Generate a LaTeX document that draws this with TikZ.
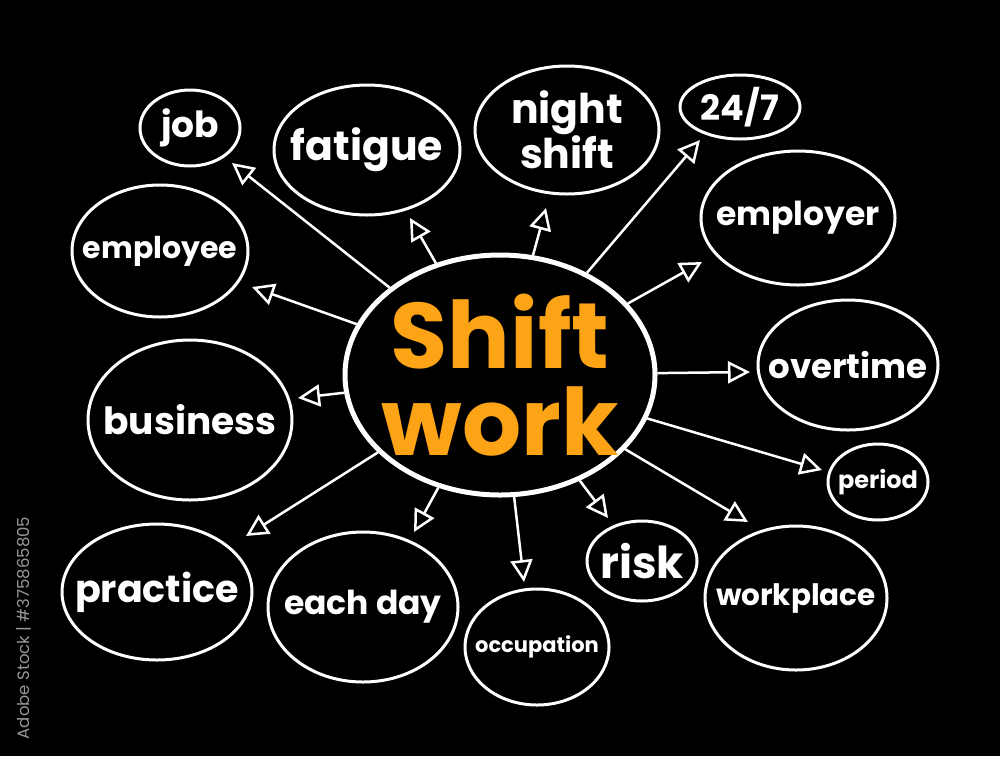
\documentclass[tikz,border=0pt]{standalone}
\usepackage{fontspec}
\setmainfont{Poppins}
\usetikzlibrary{shapes.geometric,arrows.meta}

\definecolor{shiftorange}{RGB}{252,163,22}
\definecolor{stockgrey}{RGB}{150,150,150}
\newcommand{\wsize}[1]{\fontsize{#1}{#1}\selectfont\bfseries}

\begin{document}
\begin{tikzpicture}[x=1pt,y=-1pt]

      \fill[black] (0,0) rectangle (1000,756);
      \useasboundingbox (0,0) rectangle (1000,756);

      \node (shift) at (500,375) [ellipse,draw=white,line width=5pt,inner sep=-60pt,
        minimum width=310pt,minimum height=240pt,text=shiftorange,align=center,
        font=\fontsize{93}{87}\selectfont\bfseries] {Shift\\work};

      \begin{scope}[every node/.style={ellipse,draw=white,line width=3pt,text=white,inner sep=-60pt,align=center}]
        \node (job)        at (190,128) [minimum width=100pt,minimum height=76pt,font=\wsize{36}] {job};
        \node (fatigue)    at (367,150) [minimum width=186pt,minimum height=130pt,font=\wsize{41}] {fatigue};
        \node (night)      at (567,130) [minimum width=184pt,minimum height=128pt,font=\fontsize{41}{44}\selectfont\bfseries] {night\\shift};
        \node (allday)     at (740,107) [minimum width=120pt,minimum height=64pt,font=\wsize{35}] {24/7};
        \node (employer)   at (798,218) [minimum width=194pt,minimum height=134pt,font=\wsize{33}] {employer};
        \node (employee)   at (160,251) [minimum width=176pt,minimum height=132pt,font=\wsize{30}] {employee};
        \node (overtime)   at (848,365) [minimum width=180pt,minimum height=130pt,font=\wsize{34}] {overtime};
        \node (business)   at (190,420) [minimum width=204pt,minimum height=160pt,font=\wsize{37.5}] {business};
        \node (period)     at (878,482) [minimum width=100pt,minimum height=76pt,font=\wsize{24}] {period};
        \node (practice)   at (157,592) [minimum width=190pt,minimum height=136pt,font=\wsize{38}] {practice};
        \node (eachday)    at (363,607) [minimum width=190pt,minimum height=150pt,font=\wsize{33}] {each day};
        \node (occupation) at (537,647) [minimum width=144pt,minimum height=116pt,font=\wsize{21}] {occupation};
        \node (risk)       at (642,561) [minimum width=110pt,minimum height=80pt,font=\wsize{44}] {risk};
        \node (workplace)  at (796,598) [minimum width=182pt,minimum height=144pt,font=\wsize{29.5}] {workplace};
      \end{scope}

      % arrow tips, short of the bubbles
      \coordinate (tjob)        at (232,163);
      \coordinate (tfatigue)    at (410,218);
      \coordinate (tnight)      at (546,208);
      \coordinate (tallday)     at (700,140);
      \coordinate (temployer)   at (702,262);
      \coordinate (temployee)   at (252,287);
      \coordinate (tovertime)   at (750,372);
      \coordinate (tbusiness)   at (298,398);
      \coordinate (tperiod)     at (822,470);
      \coordinate (tpractice)   at (246,536);
      \coordinate (teachday)    at (414,532);
      \coordinate (toccupation) at (524,582);
      \coordinate (trisk)       at (608,518);
      \coordinate (tworkplace)  at (748,522);

      \begin{scope}[every edge/.style={draw=white,line width=2.5pt,
          -{Triangle[open,length=22pt,width=22pt,line width=2.5pt]}}]
        \path (shift) edge (tjob);
        \path (shift) edge (tfatigue);
        \path (shift) edge (tnight);
        \path (shift) edge (tallday);
        \path (shift) edge (temployer);
        \path (shift) edge (temployee);
        \path (shift) edge (tovertime);
        \path (shift) edge (tbusiness);
        \path (shift) edge (tperiod);
        \path (shift) edge (tpractice);
        \path (shift) edge (teachday);
        \path (shift) edge (toccupation);
        \path (shift) edge (trisk);
        \path (shift) edge (tworkplace);
      \end{scope}

      \node (stock) at (24,628) [rotate=90,text=stockgrey,font=\fontsize{16.5}{16.5}\selectfont] {Adobe Stock \textbar\ \#375865805};

\end{tikzpicture}
\end{document}
